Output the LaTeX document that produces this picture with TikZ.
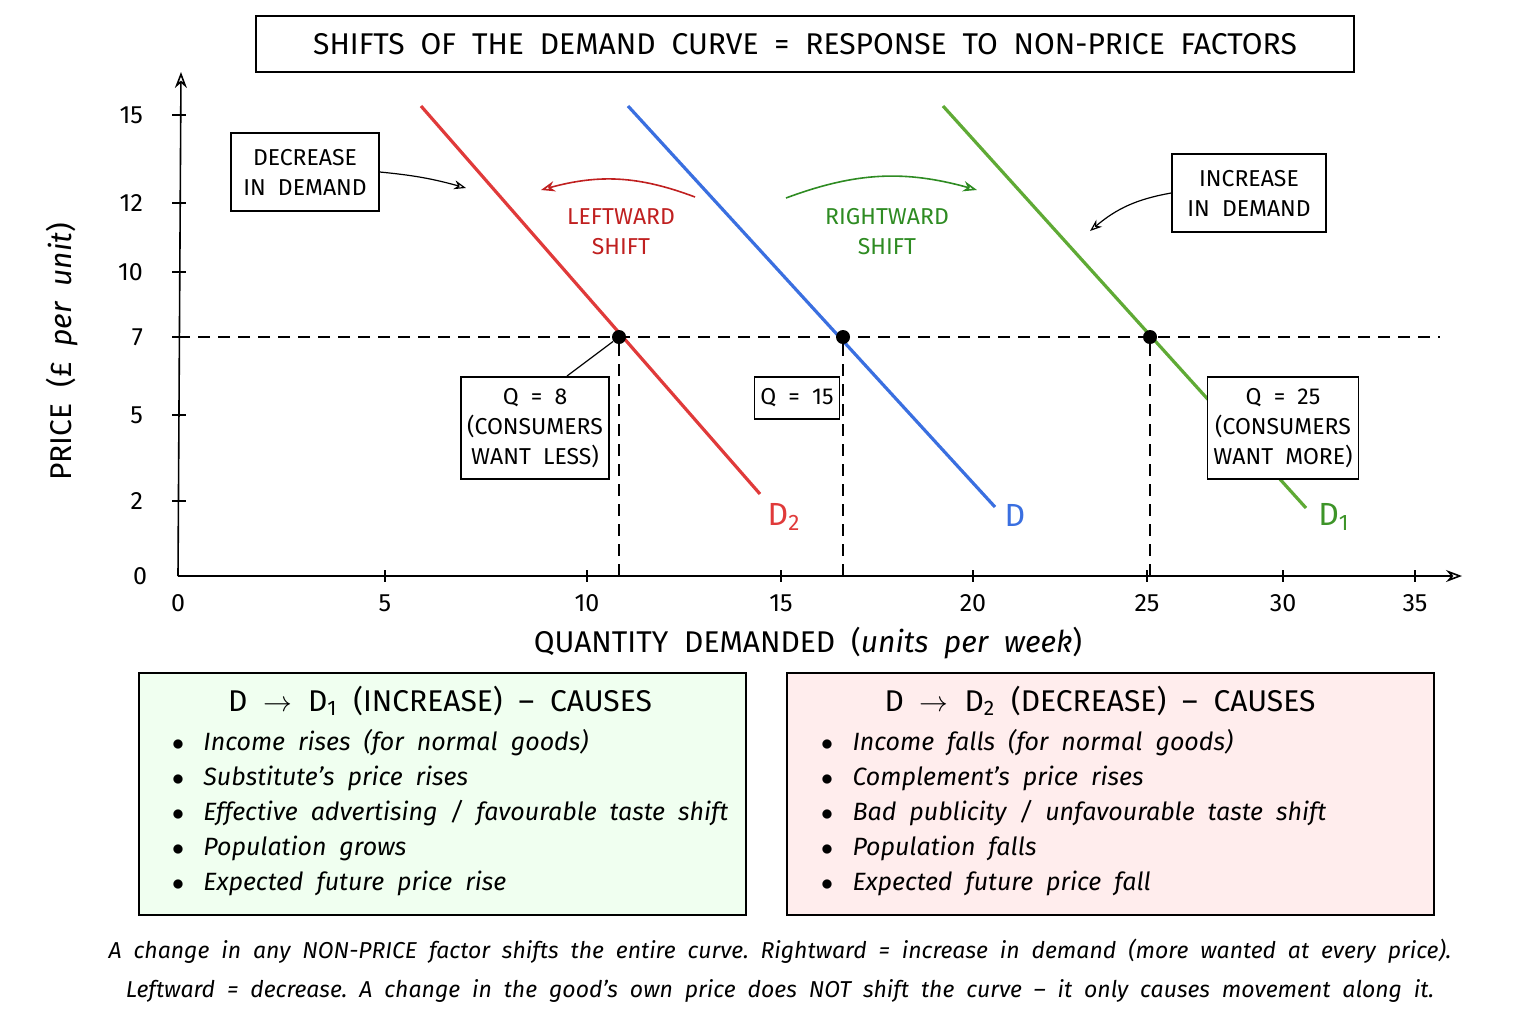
\documentclass[tikz,border=0pt]{standalone}
\usepackage{fontspec}
\setmainfont{Fira Sans}
\usetikzlibrary{arrows.meta}
\definecolor{rd}{HTML}{E03A3A}\definecolor{bl}{HTML}{3A6FE0}\definecolor{gr}{HTML}{5FAA35}
\definecolor{dgr}{HTML}{2E8B22}\definecolor{drd}{HTML}{C02020}
\newcommand{\sbs}[1]{\textsubscript{#1}}
\begin{document}
\begin{tikzpicture}[x=0.5pt,y=-0.5pt,
 box/.style={draw,thick,fill=white,align=center,inner sep=5pt,font=\fontsize{11.5}{15}\selectfont},
 tick/.style={font=\fontsize{12.5}{14}\selectfont},
 dot/.style={circle,fill=black,inner sep=0pt,minimum size=7pt},
 dsh/.style={thick,dash pattern=on 6pt off 4pt},
 arr/.style={-{Stealth[open,length=6pt]},semithick},
 bul/.style={font=\fontsize{12.5}{17.5}\selectfont\itshape,align=left,anchor=north west}]
\useasboundingbox (0,0) rectangle (1536,1024);
\node[draw,thick,minimum width=549pt,minimum height=28pt,font=\fontsize{15}{16}\selectfont] (title) at (805,44) {SHIFTS\ \ OF\ \ THE\ \ DEMAND\ \ CURVE\ \ =\ \ RESPONSE\ \ TO\ \ NON-PRICE\ \ FACTORS};
% axes
\coordinate (O) at (178,576); \coordinate (yt) at (181,72); \coordinate (xt) at (1462,576);
\draw[thick,-{Stealth[open,length=8pt]}] (O) -- (yt);
\draw[thick,-{Stealth[open,length=8pt]}] (O) -- (xt);
\foreach \v/\p in {15/115,12/203,10/272,7/337,5/415,2/501}{\draw[thick] (172,\p)--(186,\p); \node[tick,anchor=east] at (150,\p) {\v};}
\node[tick] at (140,576) {0};
\foreach \v/\p in {0/178,5/385,10/587,15/781,20/973,25/1147,30/1283,35/1415}{\node[tick] at (\p,603) {\v};}
\foreach \p in {385,587,781,973,1147,1283,1415}{\draw[thick] (\p,570)--(\p,582);}
\node[rotate=90,font=\fontsize{15}{16}\selectfont] at (62,352) {PRICE\ \ (£\ \ \textit{per\ \ unit})};
\node[font=\fontsize{15}{16}\selectfont] at (808,643) {QUANTITY\ \ DEMANDED\ \ (\textit{units\ \ per\ \ week})};
% dashed
\coordinate (hl) at (178,337); \coordinate (hr) at (1440,337);
\draw[dsh] (hl)--(hr);
% curves
\draw[rd,line width=1.6pt] (421,106)--(760,494);
\draw[bl,line width=1.6pt] (628,106)--(995,507);
\draw[gr,line width=1.6pt] (943,106)--(1306,508);
\node[rd,font=\fontsize{16}{16}\selectfont] at (784,517) {D\sbs{2}};
\node[bl,font=\fontsize{16}{16}\selectfont] at (1015,515) {D};
\node[dgr!70!gr,font=\fontsize{16}{16}\selectfont] at (1334,517) {D\sbs{1}};
\node[dot] (p8) at (619,337) {}; \node[dot] (p15) at (843,337) {}; \node[dot] (p25) at (1150,337) {};
\coordinate (b8) at (619,576); \coordinate (b15) at (843,576); \coordinate (b25) at (1150,576);
\draw[dsh] (p8)--(b8); \draw[dsh] (p15)--(b15); \draw[dsh] (p25)--(b25);
% boxes
\node[box,minimum width=74pt,minimum height=39pt] (dec) at (305,172) {DECREASE\\IN\ \ DEMAND};
\node[box,minimum width=77pt,minimum height=39pt] (inc) at (1249,193) {INCREASE\\IN\ \ DEMAND};
\coordinate (da) at (466,188); \coordinate (ia) at (1090,231);
\draw[arr] (dec.east) to[bend left=5] (da);
\draw[arr] (inc.west) to[bend right=15] (ia);
\node[box,inner sep=3pt,minimum height=51pt] (q8) at (535,428) {Q\ \ =\ \ 8\\(CONSUMERS\\WANT\ \ LESS)};
\node[box,inner sep=3pt,minimum height=21pt] (q15) at (797,398) {Q\ \ =\ \ 15};
\node[box,inner sep=3pt,minimum height=51pt] (q25) at (1283,428) {Q\ \ =\ \ 25\\(CONSUMERS\\WANT\ \ MORE)};
\draw[semithick] (p8)--(567,376);
% shift arrows
\coordinate (l1) at (695,197); \coordinate (l2) at (541,190);
\coordinate (r1) at (786,198); \coordinate (r2) at (977,190);
\draw[drd,thick,-{Stealth[open,length=7pt]}] (l1) to[bend right=18] (l2);
\draw[dgr,thick,-{Stealth[open,length=7pt]}] (r1) to[bend left=18] (r2);
\node[drd,align=center,font=\fontsize{11.5}{15}\selectfont] at (621,232) {LEFTWARD\\SHIFT};
\node[dgr,align=center,font=\fontsize{11.5}{15}\selectfont] at (887,232) {RIGHTWARD\\SHIFT};
% panels
\node[draw,very thick,fill=green!6,minimum width=303.5pt,minimum height=121pt] (gp) at (442.5,794) {};
\node[draw,very thick,fill=red!7,minimum width=323.5pt,minimum height=121pt] (rp) at (1110.5,794) {};
\node[font=\fontsize{15}{16}\selectfont] at (440,701) {D\ \ $\rightarrow$\ \ D\sbs{1}\ \ (INCREASE)\ \ --\ \ CAUSES};
\node[font=\fontsize{15}{16}\selectfont] at (1100,701) {D\ \ $\rightarrow$\ \ D\sbs{2}\ \ (DECREASE)\ \ --\ \ CAUSES};
\node[bul] at (165,722) {$\bullet$\ \ \ Income\ \ rises\ \ (for\ \ normal\ \ goods)\\$\bullet$\ \ \ Substitute's\ \ price\ \ rises\\$\bullet$\ \ \ Effective\ \ advertising\ \ /\ \ favourable\ \ taste\ \ shift\\$\bullet$\ \ \ Population\ \ grows\\$\bullet$\ \ \ Expected\ \ future\ \ price\ \ rise};
\node[bul] at (814,722) {$\bullet$\ \ \ Income\ \ falls\ \ (for\ \ normal\ \ goods)\\$\bullet$\ \ \ Complement's\ \ price\ \ rises\\$\bullet$\ \ \ Bad\ \ publicity\ \ /\ \ unfavourable\ \ taste\ \ shift\\$\bullet$\ \ \ Population\ \ falls\\$\bullet$\ \ \ Expected\ \ future\ \ price\ \ fall};
\node[align=center,font=\fontsize{11.5}{19.5}\selectfont\itshape] at (780,971) {A\ \ change\ \ in\ \ any\ \ NON-PRICE\ \ factor\ \ shifts\ \ the\ \ entire\ \ curve.\ \ Rightward\ \ =\ \ increase\ \ in\ \ demand\ \ (more\ \ wanted\ \ at\ \ every\ \ price).\\Leftward\ \ =\ \ decrease.\ \ A\ \ change\ \ in\ \ the\ \ good's\ \ own\ \ price\ \ does\ \ NOT\ \ shift\ \ the\ \ curve\ \ --\ \ it\ \ only\ \ causes\ \ movement\ \ along\ \ it.};
\end{tikzpicture}
\end{document}
